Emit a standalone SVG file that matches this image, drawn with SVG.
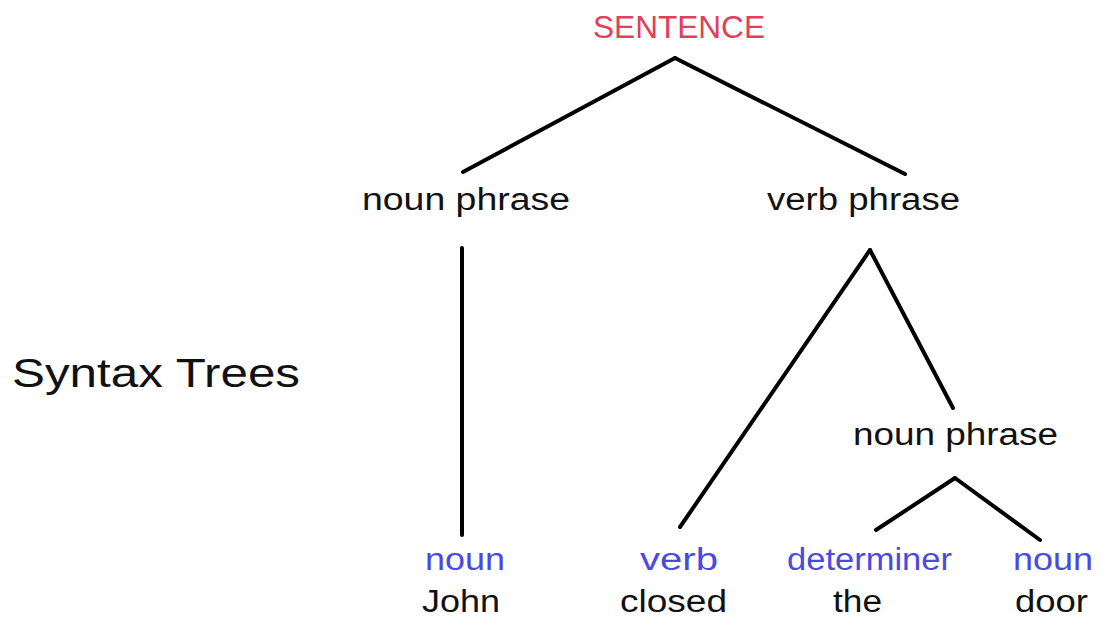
<svg xmlns="http://www.w3.org/2000/svg" width="1103" height="617" viewBox="0 0 1103 617">
<style>
text{font-family:"Liberation Sans",Arial,sans-serif;font-size:31px;fill:#111}
.red{fill:#e0405a}
.blue{fill:#4a4ae0}
.title{font-size:40px}
.conn line{stroke:#000;stroke-width:4;stroke-linecap:round}
</style>
<rect width="1103" height="617" fill="#fff"/>
<g id="connectors" class="conn">
<line x1="675" y1="58" x2="463" y2="172"/>
<line x1="675" y1="58" x2="905" y2="174"/>
<line x1="462" y1="248" x2="462" y2="535"/>
<line x1="870" y1="250" x2="680" y2="527"/>
<line x1="870" y1="250" x2="953" y2="408"/>
<line x1="955" y1="478" x2="876" y2="530"/>
<line x1="955" y1="478" x2="1040" y2="540"/>
</g>
<g id="title"><text class="title" x="12" y="387" textLength="288" lengthAdjust="spacingAndGlyphs">Syntax Trees</text></g>
<g id="sentence"><text class="red" x="593" y="38" textLength="172" lengthAdjust="spacingAndGlyphs">SENTENCE</text></g>
<g id="np1"><text x="362" y="210" textLength="208" lengthAdjust="spacingAndGlyphs">noun phrase</text></g>
<g id="vp"><text x="767" y="210" textLength="193" lengthAdjust="spacingAndGlyphs">verb phrase</text></g>
<g id="np2"><text x="853" y="445" textLength="205" lengthAdjust="spacingAndGlyphs">noun phrase</text></g>
<g id="john"><text class="blue" x="425" y="570" textLength="80" lengthAdjust="spacingAndGlyphs">noun</text><text x="422" y="612" textLength="78" lengthAdjust="spacingAndGlyphs">John</text></g>
<g id="closed"><text class="blue" x="640" y="570" textLength="78" lengthAdjust="spacingAndGlyphs">verb</text><text x="620" y="612" textLength="107" lengthAdjust="spacingAndGlyphs">closed</text></g>
<g id="the"><text class="blue" x="787" y="570" textLength="165" lengthAdjust="spacingAndGlyphs">determiner</text><text x="833" y="612" textLength="49" lengthAdjust="spacingAndGlyphs">the</text></g>
<g id="door"><text class="blue" x="1013" y="570" textLength="80" lengthAdjust="spacingAndGlyphs">noun</text><text x="1015" y="612" textLength="73" lengthAdjust="spacingAndGlyphs">door</text></g>
</svg>
